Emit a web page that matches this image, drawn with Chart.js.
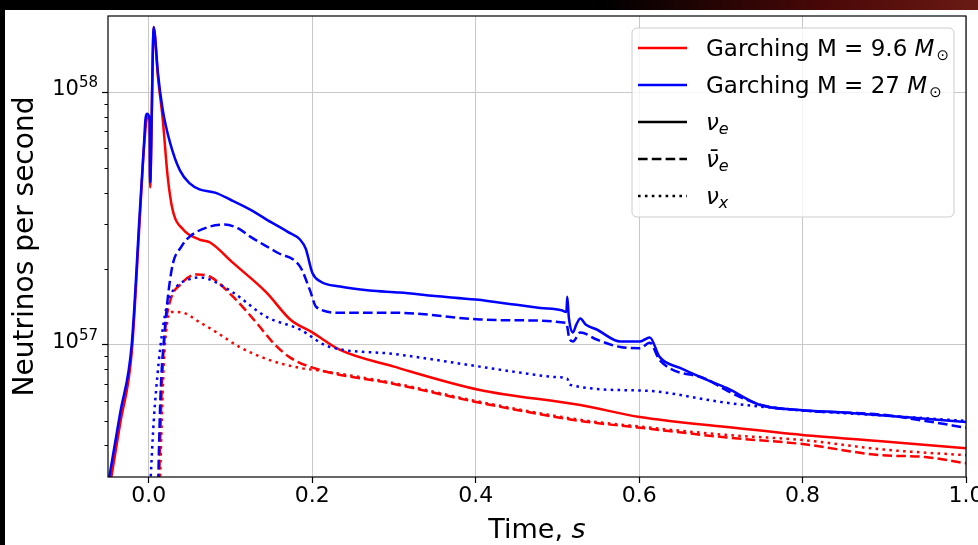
<!DOCTYPE html>
<html>
<head>
<meta charset="utf-8">
<script src="https://cdn.jsdelivr.net/npm/chart.js@4.4.1/dist/chart.umd.min.js"></script>
<style>
  html, body { margin: 0; padding: 0; background: #000; }
  #wrap { width: 978px; height: 545px; position: relative; }
</style>
</head>
<body>
<div id="wrap"><canvas id="fluxChart"></canvas></div>
<script>
// time after bounce (s) and emission rate (neutrinos per second)

// Garching 9.6 Msun
const t96e = [-0.050, -0.035, -0.021, -0.011, -0.006, -0.003, -0.001, 0.001, 0.0015, 0.002, 0.006, 0.011, 0.017, 0.023, 0.029, 0.042, 0.062, 0.075, 0.103, 0.144, 0.173, 0.200, 0.234, 0.300, 0.405, 0.528, 0.601, 0.707, 0.800, 0.900, 1.000];
const n96e = [2.5e56, 4.9e56, 9.3e56, 3.2e57, 6.0e57, 7.7e57, 8.0e57, 7.6e57, 4.2e57, 4.4e57, 1.8e58, 1.16e58, 7.8e57, 4.64e57, 3.43e57, 2.86e57, 2.61e57, 2.54e57, 2.11e57, 1.61e57, 1.26e57, 1.12e57, 9.55e56, 8.2e56, 6.63e56, 5.78e56, 5.18e56, 4.73e56, 4.4e56, 4.15e56, 3.9e56];

const t96a = [0.012, 0.016, 0.020, 0.025, 0.040, 0.059, 0.075, 0.103, 0.132, 0.152, 0.173, 0.210, 0.300, 0.405, 0.528, 0.601, 0.707, 0.800, 0.895, 0.950, 1.000];
const n96a = [2.5e56, 7.0e56, 1.15e57, 1.45e57, 1.75e57, 1.9e57, 1.86e57, 1.55e57, 1.22e57, 1.02e57, 8.9e56, 7.95e56, 7.0e56, 5.9e56, 5.0e56, 4.7e56, 4.3e56, 4.05e56, 3.66e56, 3.6e56, 3.4e56];

const t96x = [0.013, 0.018, 0.022, 0.028, 0.042, 0.062, 0.083, 0.111, 0.148, 0.185, 0.210, 0.300, 0.405, 0.528, 0.601, 0.707, 0.800, 0.900, 1.000];
const n96x = [2.5e56, 8.0e56, 1.2e57, 1.35e57, 1.34e57, 1.23e57, 1.12e57, 9.8e56, 8.7e56, 8.1e56, 7.9e56, 7.05e56, 5.95e56, 5.05e56, 4.75e56, 4.4e56, 4.2e56, 3.85e56, 3.66e56];

// Garching 27 Msun
const t27e = [-0.050, -0.035, -0.021, -0.011, -0.006, -0.004, -0.002, 0.001, 0.0015, 0.002, 0.006, 0.008, 0.011, 0.017, 0.026, 0.038, 0.050, 0.062, 0.081, 0.100, 0.124, 0.150, 0.170, 0.185, 0.192, 0.200, 0.210, 0.234, 0.270, 0.307, 0.350, 0.400, 0.450, 0.479, 0.505, 0.511, 0.512, 0.514, 0.519, 0.523, 0.528, 0.535, 0.548, 0.577, 0.601, 0.607, 0.613, 0.625, 0.650, 0.683, 0.707, 0.748, 0.797, 0.850, 0.895, 0.950, 1.000];
const n27e = [2.8e56, 5.4e56, 1.0e57, 3.4e57, 6.2e57, 7.9e57, 8.2e57, 7.8e57, 4.4e57, 4.6e57, 1.81e58, 1.6e58, 1.2e58, 8.5e57, 6.3e57, 4.9e57, 4.35e57, 4.12e57, 4.0e57, 3.75e57, 3.43e57, 3.05e57, 2.8e57, 2.61e57, 2.4e57, 1.93e57, 1.78e57, 1.70e57, 1.64e57, 1.61e57, 1.56e57, 1.51e57, 1.44e57, 1.40e57, 1.37e57, 1.35e57, 1.55e57, 1.28e57, 1.12e57, 1.2e57, 1.27e57, 1.2e57, 1.15e57, 1.03e57, 1.03e57, 1.05e57, 1.07e57, 8.96e56, 8.1e56, 7.27e56, 6.75e56, 5.78e56, 5.52e56, 5.4e56, 5.27e56, 5.1e56, 4.95e56];

const t27a = [0.011, 0.014, 0.019, 0.028, 0.040, 0.050, 0.075, 0.093, 0.110, 0.124, 0.157, 0.185, 0.197, 0.205, 0.234, 0.300, 0.405, 0.450, 0.511, 0.514, 0.519, 0.528, 0.548, 0.577, 0.601, 0.613, 0.625, 0.683, 0.707, 0.748, 0.800, 0.895, 0.950, 1.000];
const n27a = [2.5e56, 6.0e56, 1.1e57, 1.99e57, 2.45e57, 2.68e57, 2.94e57, 2.99e57, 2.88e57, 2.68e57, 2.32e57, 2.04e57, 1.65e57, 1.41e57, 1.34e57, 1.34e57, 1.26e57, 1.25e57, 1.22e57, 1.08e57, 1.03e57, 1.12e57, 1.05e57, 9.8e56, 9.7e56, 1.02e57, 8.7e56, 7.3e56, 6.6e56, 5.8e56, 5.5e56, 5.3e56, 5.0e56, 4.7e56];

const t27x = [0.001, 0.006, 0.012, 0.016, 0.023, 0.034, 0.050, 0.062, 0.075, 0.103, 0.144, 0.185, 0.218, 0.300, 0.405, 0.450, 0.500, 0.512, 0.515, 0.601, 0.707, 0.748, 0.800, 0.900, 1.000];
const n27x = [2.5e56, 5.0e56, 8.5e56, 1.1e57, 1.47e57, 1.70e57, 1.82e57, 1.85e57, 1.81e57, 1.61e57, 1.29e57, 1.15e57, 9.9e56, 9.2e56, 8.2e56, 7.8e56, 7.45e56, 7.35e56, 6.95e56, 6.6e56, 5.9e56, 5.7e56, 5.5e56, 5.25e56, 5.0e56];

const xTicks = [0, 0.2, 0.4, 0.6, 0.8, 1.0];
const yMajor = [1e57, 1e58];
const yMinor = [4e56, 5e56, 6e56, 7e56, 8e56, 9e56, 2e57, 3e57, 4e57, 5e57, 6e57, 7e57, 8e57, 9e57];

const FONT = "'DejaVu Sans', sans-serif";
const RED = '#ff0000';
const BLUE = '#0000ff';
const DASHED = [9.6, 4.2];
const DOTTED = [2.6, 4.3];

function pts(ts, vs) {
    return ts.map((t, i) => ({ x: t, y: vs[i] }));
}

function series(label, ts, vs, color, dash) {
    return {
        label: label,
        data: pts(ts, vs),
        borderColor: color,
        borderWidth: 2.5,
        borderDash: dash,
        pointRadius: 0,
        cubicInterpolationMode: 'monotone',
        fill: false
    };
}

// legend rows: [text, style] parts
const legendRows = [
    { color: RED, dash: [], parts: [['Garching M = 9.6 ', 'n'], ['M', 'i'], ['\u2299', 'sub']] },
    { color: BLUE, dash: [], parts: [['Garching M = 27 ', 'n'], ['M', 'i'], ['\u2299', 'sub']] },
    { color: '#000', dash: [], parts: [['\u03bd', 'i'], ['e', 'isub']] },
    { color: '#000', dash: DASHED, parts: [['\u03bd\u0304', 'i'], ['e', 'isub']] },
    { color: '#000', dash: DOTTED, parts: [['\u03bd', 'i'], ['x', 'isub']] }
];

function partFont(style) {
    if (style === 'i') return 'italic 23px ' + FONT;
    if (style === 'sub') return '15px ' + FONT;
    if (style === 'isub') return 'italic 16px ' + FONT;
    return '23px ' + FONT;
}

const decor = {
    id: 'decor',
    beforeDraw(chart) {
        const ctx = chart.ctx;
        ctx.save();
        ctx.fillStyle = '#000';
        ctx.fillRect(0, 0, chart.width, chart.height);
        const g = ctx.createLinearGradient(600, 0, chart.width, 0);
        g.addColorStop(0, '#000');
        g.addColorStop(0.6, '#4a0808');
        g.addColorStop(1, '#6a1a14');
        ctx.fillStyle = g;
        ctx.fillRect(0, 0, chart.width, 10);
        ctx.fillStyle = '#fff';
        ctx.fillRect(5, 10, chart.width - 5, chart.height - 10);
        ctx.restore();
    },
    afterDatasetsDraw(chart) {
        const ctx = chart.ctx;
        const a = chart.chartArea;
        const ys = chart.scales.y;
        ctx.save();
        // minor ticks on the log axis
        ctx.strokeStyle = '#000';
        ctx.lineWidth = 1;
        yMinor.forEach(v => {
            const py = Math.round(ys.getPixelForValue(v)) + 0.5;
            ctx.beginPath();
            ctx.moveTo(a.left - 3.5, py);
            ctx.lineTo(a.left, py);
            ctx.stroke();
        });
        // frame
        ctx.lineWidth = 1.2;
        ctx.strokeRect(a.left, a.top, a.right - a.left, a.bottom - a.top);

        // y tick labels 10^n
        ctx.fillStyle = '#000';
        ctx.textBaseline = 'alphabetic';
        ctx.textAlign = 'right';
        yMajor.forEach(v => {
            const py = ys.getPixelForValue(v);
            const ex = String(Math.round(Math.log10(v)));
            ctx.font = '15px ' + FONT;
            const ew = ctx.measureText(ex).width;
            ctx.fillText(ex, a.left - 10, py - 5);
            ctx.font = '21px ' + FONT;
            ctx.fillText('10', a.left - 10 - ew, py + 3);
        });

        // x axis title
        ctx.textAlign = 'left';
        ctx.font = '27px ' + FONT;
        const w1 = ctx.measureText('Time, ').width;
        ctx.font = 'italic 27px ' + FONT;
        const w2 = ctx.measureText('s').width;
        const x0 = (a.left + a.right) / 2 - (w1 + w2) / 2;
        ctx.font = '27px ' + FONT;
        ctx.fillText('Time, ', x0, 538);
        ctx.font = 'italic 27px ' + FONT;
        ctx.fillText('s', x0 + w1, 538);

        // legend
        const bx = 632, by = 28, bw = 322, bh = 189;
        ctx.beginPath();
        ctx.roundRect(bx, by, bw, bh, 5);
        ctx.fillStyle = 'rgba(255,255,255,0.8)';
        ctx.fill();
        ctx.strokeStyle = '#cccccc';
        ctx.lineWidth = 1;
        ctx.stroke();
        legendRows.forEach((row, i) => {
            const ry = 48 + i * 37;
            ctx.strokeStyle = row.color;
            ctx.lineWidth = 2.5;
            ctx.setLineDash(row.dash);
            ctx.beginPath();
            ctx.moveTo(638, ry);
            ctx.lineTo(687, ry);
            ctx.stroke();
            ctx.setLineDash([]);
            let x = 706;
            ctx.fillStyle = '#000';
            row.parts.forEach(([txt, st]) => {
                ctx.font = partFont(st);
                const dy = (st === 'sub' || st === 'isub') ? 4 : 0;
                ctx.fillText(txt, x, ry + 8 + dy);
                x += ctx.measureText(txt).width + (st === 'i' && row.parts.length === 3 ? 2 : 0);
            });
        });
        ctx.restore();
    }
};

const ctx = document.getElementById('fluxChart').getContext('2d');
new Chart(ctx, {
    type: 'line',
    data: {
        datasets: [
            series('27 nu_e', t27e, n27e, BLUE, []),
            series('27 anti nu_e', t27a, n27a, BLUE, DASHED),
            series('27 nu_x', t27x, n27x, BLUE, DOTTED),
            series('9.6 nu_e', t96e, n96e, RED, []),
            series('9.6 anti nu_e', t96a, n96a, RED, DASHED),
            series('9.6 nu_x', t96x, n96x, RED, DOTTED)
        ]
    },
    options: {
        responsive: true,
        maintainAspectRatio: false,
        devicePixelRatio: 1,
        animation: false,
        layout: { padding: { left: 0, top: 16, right: 12, bottom: 0 }, autoPadding: false },
        plugins: { legend: { display: false }, tooltip: { enabled: false } },
        scales: {
            x: {
                type: 'linear',
                min: -0.05,
                max: 1.0,
                afterBuildTicks: s => { s.ticks = xTicks.map(v => ({ value: v })); },
                afterFit: s => { s.height = 68; s.paddingLeft = 0; s.paddingRight = 0; },
                ticks: {
                    callback: v => v.toFixed(1),
                    font: { family: FONT, size: 22, lineHeight: 1 },
                    color: '#000',
                    padding: 2,
                    maxRotation: 0,
                    autoSkip: false
                },
                grid: { color: '#c8c8c8', lineWidth: 1, tickColor: '#000', tickLength: 6, tickWidth: 1.2 },
                border: { display: false }
            },
            y: {
                type: 'logarithmic',
                min: 3e56,
                max: 2e58,
                afterBuildTicks: s => { s.ticks = yMajor.map(v => ({ value: v, major: true })); },
                afterFit: s => { s.width = 108; s.paddingTop = 0; s.paddingBottom = 0; },
                ticks: { display: false },
                grid: { color: '#c8c8c8', lineWidth: 1, tickColor: '#000', tickLength: 6, tickWidth: 1.2 },
                border: { display: false },
                title: {
                    display: true,
                    text: 'Neutrinos per second',
                    color: '#000',
                    font: { family: FONT, size: 28, lineHeight: 1.2 },
                    padding: { top: 9, bottom: 0 }
                }
            }
        }
    },
    plugins: [decor]
});
</script>
</body>
</html>
